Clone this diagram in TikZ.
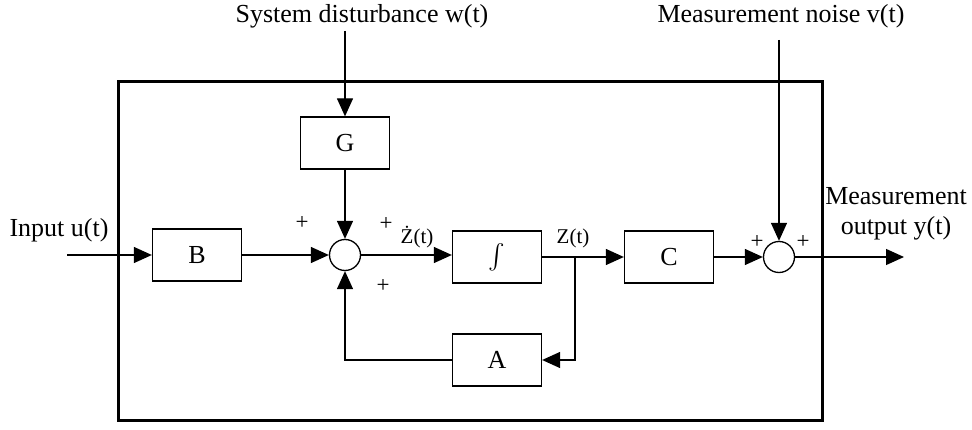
\documentclass[tikz,border=0pt]{standalone}
\usepackage{amsmath}
\usepackage{fontspec}
\setmainfont{Liberation Serif}
\usetikzlibrary{arrows.meta}
\begin{document}
\begin{tikzpicture}[x=1pt,y=-1pt,
  blk/.style={draw,line width=1.3pt,minimum width=89pt,minimum height=52pt,inner sep=0pt,font=\fontsize{26}{30}\selectfont},
  sumc/.style={draw,circle,line width=1.3pt,minimum size=31pt,inner sep=0pt},
  sig/.style={line width=1.3pt,-{Triangle[length=18pt,width=16pt]}},
  wire/.style={line width=1.3pt},
  lbl/.style={font=\fontsize{26}{30}\selectfont,inner sep=0pt},
  sml/.style={font=\fontsize{21}{24}\selectfont,inner sep=0pt},
  pls/.style={font=\fontsize{23}{26}\selectfont,inner sep=0pt}]
\useasboundingbox (0,0) rectangle (972,430);
% frame
\node[draw,line width=3pt,minimum width=704pt,minimum height=338pt,inner sep=0pt] (frame) at (470,251) {};
% blocks
\node[blk] (G) at (345,143) {G};
\node[blk] (B) at (197,255) {B};
\node[blk] (I) at (497,257) {$\int$};
\node[blk] (A) at (497,360) {A};
\node[blk] (C) at (669,257) {C};
\node[sumc] (S1) at (345,255) {};
\node[sumc] (S2) at (779,257) {};
% labels
\node[lbl] (wlab) at (362,16) {System disturbance w(t)};
\node[lbl] (vlab) at (781,16) {Measurement noise v(t)};
\node[lbl] (ulab) at (59,230) {Input u(t)};
\node[lbl,align=center] (ylab) at (896,214) {Measurement\\output y(t)};
\node[sml] (zdot) at (417,237) {Ż(t)};
\node[sml] (zlab) at (573,238) {Z(t)};
\node[pls] (p1) at (302,223) {+};
\node[pls] (p2) at (386,224) {+};
\node[pls] (p3) at (383,286) {+};
\node[pls] (p4) at (757,242) {+};
\node[pls] (p5) at (803,242) {+};
% coordinates
\coordinate (win) at (345,31);
\coordinate (vin) at (779,40);
\coordinate (uin) at (67,255);
\coordinate (yout) at (904,257);
\coordinate (br) at (575,257);
\coordinate (brd) at (575,360);
\coordinate (fb) at (345,360);
% connectors
\draw[sig] (win) -- (G.north);
\draw[sig] (G.south) -- (S1.north);
\draw[sig] (uin) -- (B.west);
\draw[sig] (B.east) -- (S1.west);
\draw[sig] (S1.east) -- (S1.east -| I.west);
\draw[sig] (I.east) -- (C.west);
\draw[sig] (br) -- (brd) -- (A.east);
\draw[sig] (A.west) -- (fb) -- (S1.south);
\draw[sig] (C.east) -- (S2.west);
\draw[sig] (vin) -- (S2.north);
\draw[sig] (S2.east) -- (yout);
\end{tikzpicture}
\end{document}
